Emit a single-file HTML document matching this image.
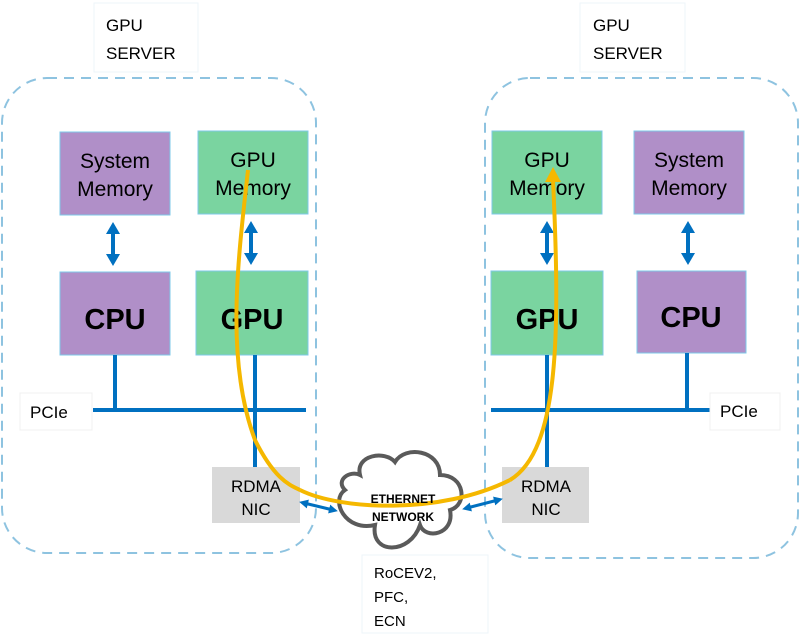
<!DOCTYPE html>
<html><head><style>body{margin:0;background:#fff}svg{display:block}</style></head><body>
<svg width="800" height="639" viewBox="0 0 800 639" xmlns="http://www.w3.org/2000/svg" font-family="Liberation Sans, sans-serif">
<defs>
<marker id="ab" markerWidth="14" markerHeight="14" refX="6" refY="7" orient="auto-start-reverse" markerUnits="userSpaceOnUse"><path d="M0,0 L12,7 L0,14Z" fill="#0070c0"/></marker>
<marker id="as" markerWidth="9" markerHeight="9" refX="4" refY="4.5" orient="auto-start-reverse" markerUnits="userSpaceOnUse"><path d="M0,0 L9,4.5 L0,9Z" fill="#0070c0"/></marker>
</defs>
<rect x="94" y="3" width="104" height="69" fill="#fff" stroke="#eef4fa"/>
<text x="106" y="31" font-size="17">GPU</text><text x="106" y="59" font-size="17">SERVER</text>
<rect x="580" y="3" width="105" height="69" fill="#fff" stroke="#eef4fa"/>
<text x="593" y="31" font-size="17">GPU</text><text x="593" y="59" font-size="17">SERVER</text>
<rect x="2" y="78" width="314" height="475" rx="45" fill="none" stroke="#8ec3e0" stroke-width="2" stroke-dasharray="10,7"/>
<rect x="485" y="78" width="313" height="480" rx="45" fill="none" stroke="#8ec3e0" stroke-width="2" stroke-dasharray="10,7"/>
<g stroke="#7ec8e8" stroke-width="1">
<rect x="60" y="132" width="110" height="83" fill="#b08fc8"/>
<rect x="198" y="131" width="110" height="83" fill="#7ad4a0"/>
<rect x="60" y="272" width="110" height="83" fill="#b08fc8"/>
<rect x="196" y="271" width="112" height="84" fill="#7ad4a0"/>
<rect x="492" y="131" width="110" height="83" fill="#7ad4a0"/>
<rect x="634" y="131" width="110" height="83" fill="#b08fc8"/>
<rect x="491" y="271" width="112" height="84" fill="#7ad4a0"/>
<rect x="637" y="271" width="109" height="82" fill="#b08fc8"/>
</g>
<g font-size="21" text-anchor="middle">
<text x="115" y="168">System</text><text x="115" y="196">Memory</text>
<text x="253" y="167">GPU</text><text x="253" y="195">Memory</text>
<text x="547" y="167">GPU</text><text x="547" y="195">Memory</text>
<text x="689" y="167">System</text><text x="689" y="195">Memory</text>
</g>
<g font-size="29" font-weight="bold" text-anchor="middle">
<text x="115" y="329">CPU</text><text x="252" y="329">GPU</text>
<text x="547" y="329">GPU</text><text x="691" y="327">CPU</text>
</g>
<g stroke="#0070c0" stroke-width="4" marker-start="url(#ab)" marker-end="url(#ab)">
<line x1="113" y1="228" x2="113" y2="260"/>
<line x1="251" y1="227" x2="251" y2="259"/>
<line x1="547" y1="227" x2="547" y2="259"/>
<line x1="688" y1="227" x2="688" y2="259"/>
</g>
<g stroke="#0070c0" stroke-width="4" fill="none">
<line x1="93" y1="410" x2="306" y2="410"/>
<line x1="115" y1="355" x2="115" y2="410"/>
<line x1="255" y1="355" x2="255" y2="467"/>
<line x1="491" y1="410" x2="745" y2="410"/>
<line x1="687" y1="353" x2="687" y2="410"/>
<line x1="547" y1="355" x2="547" y2="467"/>
</g>
<rect x="20" y="393" width="72" height="37" fill="#fff" stroke="#f0f0f0"/>
<text x="30" y="418" font-size="17">PCIe</text>
<rect x="710" y="393" width="70" height="37" fill="#fff" stroke="#f0f0f0"/>
<text x="720" y="417" font-size="17">PCIe</text>
<rect x="212" y="467" width="88" height="56" fill="#d9d9d9"/>
<text x="256" y="492" font-size="17" text-anchor="middle">RDMA</text><text x="256" y="515" font-size="17" text-anchor="middle">NIC</text>
<rect x="502" y="467" width="87" height="56" fill="#d9d9d9"/>
<text x="546" y="492" font-size="17" text-anchor="middle">RDMA</text><text x="546" y="515" font-size="17" text-anchor="middle">NIC</text>
<g stroke="#0070c0" stroke-width="3" marker-start="url(#as)" marker-end="url(#as)">
<line x1="304" y1="503" x2="333" y2="510"/>
<line x1="467" y1="508" x2="498" y2="500"/>
</g>
<path d="M360,475 C355,455 385,450 395,462 C405,445 440,450 440,475 C465,475 468,505 450,510 C455,535 425,540 420,525 C410,555 370,555 375,525 C345,532 330,500 345,490 C335,480 350,470 360,475Z" fill="#fff" stroke="#5a5a5a" stroke-width="4"/>
<path d="M300,490 C340,510 440,515 510,480" fill="none" stroke="#f5b800" stroke-width="4"/>
<text x="403" y="503" font-size="12" font-weight="bold" text-anchor="middle">ETHERNET</text>
<text x="403" y="521" font-size="12" font-weight="bold" text-anchor="middle">NETWORK</text>
<path d="M248,170 C238,260 225,360 255,440 C275,480 290,485 300,490 M510,480 C560,450 560,330 553,180" fill="none" stroke="#f5b800" stroke-width="4"/>
<path d="M545,182 L553,167 L561,182Z" fill="#f5b800"/>
<rect x="362" y="555" width="126" height="78" fill="#fff" stroke="#eef4fa"/>
<g font-size="15"><text x="374" y="578">RoCEV2,</text><text x="374" y="602">PFC,</text><text x="374" y="626">ECN</text></g>
</svg>
</body></html>
